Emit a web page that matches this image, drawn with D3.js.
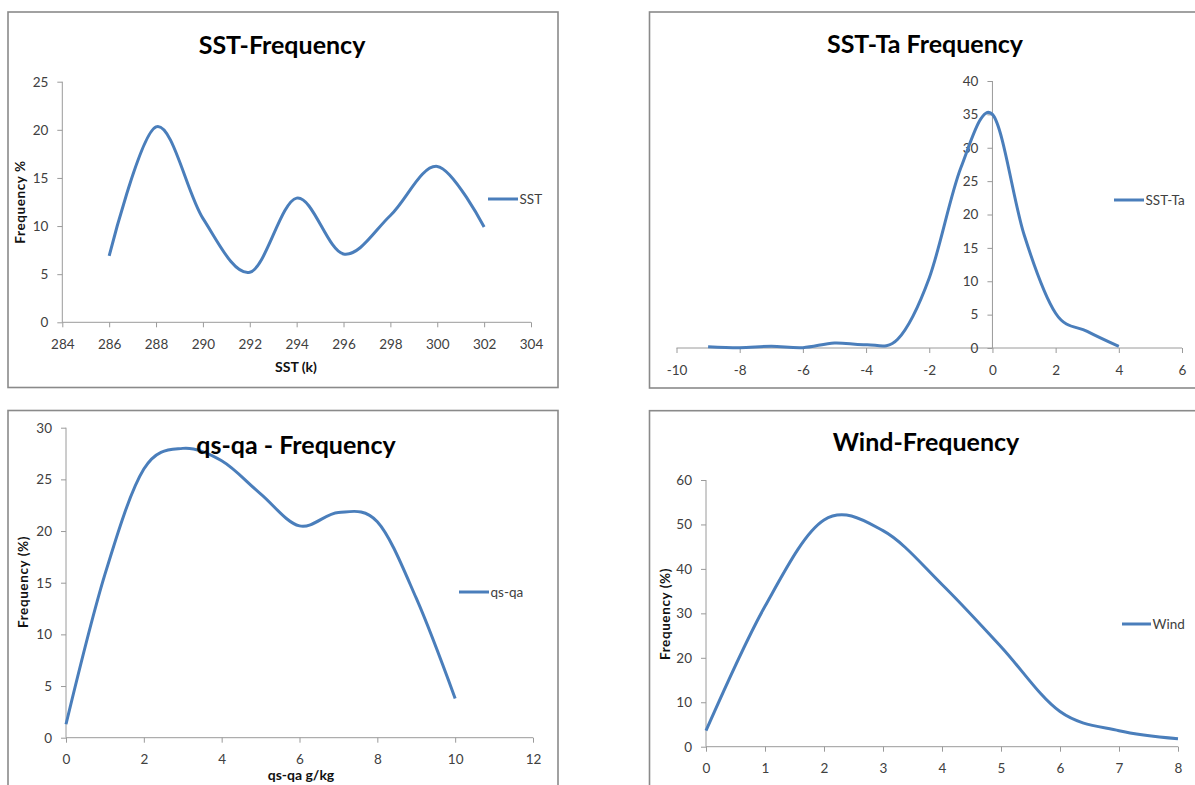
<!DOCTYPE html>
<html>
<head>
<meta charset="utf-8">
<script src="https://cdn.jsdelivr.net/npm/d3@7/dist/d3.min.js"></script>
<style>
  html, body { margin: 0; padding: 0; background: #fff; }
  svg { display: block; }
  .tick text { font-family: Lato, "Liberation Sans", Arial, sans-serif; font-size: 13.5px; fill: #404040; }
  .tick line, .domain { stroke: #9a9a9a; stroke-width: 1; }
</style>
</head>
<body>
<svg id="chart" width="1195" height="785"></svg>
<script>
// ---- data ----
const sstX = [286, 288, 290, 292, 294, 296, 298, 300, 302];
const sstFreq = [6.9, 20.3, 10.8, 5.2, 12.9, 7.1, 11.1, 16.2, 9.9];

const sstTaX = [-9, -8, -7, -6, -5, -4, -3, -2, -1, 0, 1, 2, 3, 4];
const sstTaFreq = [0.2, 0.05, 0.25, 0.05, 0.75, 0.5, 1.3, 10.5, 27, 35, 17, 5.2, 2.5, 0.25];

const qsqaX = [0, 1, 2, 3, 4, 5, 6, 7, 8, 9, 10];
const qsqaFreq = [1.3, 15.8, 26, 28, 26.8, 23.6, 20.5, 21.8, 20.9, 13.5, 3.8];

const windX = [0, 1, 2, 3, 4, 5, 6, 7, 8];
const windFreq = [3.6, 31.6, 51, 48.6, 36.5, 22.5, 7.9, 3.6, 1.8];

// ---- axis ticks ----
const sstTicksX = [284, 286, 288, 290, 292, 294, 296, 298, 300, 302, 304];
const sstTicksY = [0, 5, 10, 15, 20, 25];
const sstTaTicksX = [-10, -8, -6, -4, -2, 0, 2, 4, 6];
const sstTaTicksY = [0, 5, 10, 15, 20, 25, 30, 35, 40];
const qsqaTicksX = [0, 2, 4, 6, 8, 10, 12];
const qsqaTicksY = [0, 5, 10, 15, 20, 25, 30];
const windTicksX = [0, 1, 2, 3, 4, 5, 6, 7, 8];
const windTicksY = [0, 10, 20, 30, 40, 50, 60];

const titles = ["SST-Frequency", "SST-Ta Frequency", "qs-qa - Frequency", "Wind-Frequency"];
const seriesNames = ["SST", "SST-Ta", "qs-qa", "Wind"];

// ---- panel layout ----
const panels = [
  {
    xs: sstX, ys: sstFreq, ticksX: sstTicksX, ticksY: sstTicksY,
    title: titles[0], name: seriesNames[0],
    frame: [8, 12, 550, 375.5],
    xRange: [62.3, 531], yRange: [322.3, 81.7],
    yAxisAt: "min", xAxisAt: 0,
    titlePos: [282, 54], legend: [488, 518, 199],
    xLabel: "SST (k)", xLabelPos: [296, 372],
    yLabel: "Frequency %", yLabelPos: [20, 202]
  },
  {
    xs: sstTaX, ys: sstTaFreq, ticksX: sstTaTicksX, ticksY: sstTaTicksY,
    title: titles[1], name: seriesNames[1],
    frame: [649.5, 12, 560, 376],
    xRange: [676.5, 1182], yRange: [348, 81],
    yAxisAt: 0, xAxisAt: 0,
    titlePos: [925, 53], legend: [1114, 1144, 200]
  },
  {
    xs: qsqaX, ys: qsqaFreq, ticksX: qsqaTicksX, ticksY: qsqaTicksY,
    title: titles[2], name: seriesNames[2],
    frame: [8, 410.5, 550, 400],
    xRange: [66, 533], yRange: [737.7, 427.7],
    yAxisAt: "min", xAxisAt: 0,
    titlePos: [296, 454], legend: [459, 489, 592],
    xLabel: "qs-qa g/kg", xLabelPos: [301, 780],
    yLabel: "Frequency (%)", yLabelPos: [23, 582]
  },
  {
    xs: windX, ys: windFreq, ticksX: windTicksX, ticksY: windTicksY,
    title: titles[3], name: seriesNames[3],
    frame: [649.5, 410.7, 560, 400],
    xRange: [706, 1178], yRange: [746.7, 480],
    yAxisAt: "min", xAxisAt: 0,
    titlePos: [926, 451], legend: [1122, 1151, 624],
    yLabel: "Frequency (%)", yLabelPos: [665, 614]
  }
];

const FONT = 'Lato, "Liberation Sans", Arial, sans-serif';
const LINE_COLOR = "#4a7ebb";
const svg = d3.select("#chart");

panels.forEach(p => {
  const g = svg.append("g");

  // chart frame
  g.append("rect")
    .attr("x", p.frame[0]).attr("y", p.frame[1])
    .attr("width", p.frame[2]).attr("height", p.frame[3])
    .attr("fill", "#fff").attr("stroke", "#8a8a8a").attr("stroke-width", 1.6);

  const xDom = d3.extent(p.ticksX);
  const yDom = d3.extent(p.ticksY);
  const x = d3.scaleLinear().domain(xDom).range(p.xRange);
  const y = d3.scaleLinear().domain(yDom).range(p.yRange);

  const yAxisX = p.yAxisAt === "min" ? x(xDom[0]) : x(p.yAxisAt);
  const xAxisY = y(p.xAxisAt);

  // axes
  const gx = g.append("g").attr("transform", `translate(0,${xAxisY})`)
    .call(d3.axisBottom(x).tickValues(p.ticksX).tickSize(5).tickPadding(12).tickSizeOuter(0)
      .tickFormat(d3.format("d")));
  const gy = g.append("g").attr("transform", `translate(${yAxisX},0)`)
    .call(d3.axisLeft(y).tickValues(p.ticksY).tickSize(5).tickPadding(9).tickSizeOuter(0)
      .tickFormat(d3.format("d")));
  gx.select(".domain").attr("d", `M${p.xRange[0]},0H${p.xRange[1]}`);
  gy.select(".domain").attr("d", `M0,${p.yRange[0]}V${p.yRange[1]}`);
  gx.selectAll(".tick text").text(d => d < 0 ? "-" + Math.abs(d) : d);

  // series line
  const line = d3.line()
    .x((d, i) => x(p.xs[i]))
    .y(d => y(d))
    .curve(d3.curveCatmullRom.alpha(0));
  g.append("path")
    .datum(p.ys)
    .attr("d", line)
    .attr("fill", "none")
    .attr("stroke", LINE_COLOR)
    .attr("stroke-width", 3)
    .attr("stroke-linejoin", "round");

  // title
  g.append("text")
    .attr("x", p.titlePos[0]).attr("y", p.titlePos[1])
    .attr("text-anchor", "middle")
    .style("font-family", FONT).style("font-weight", "bold").style("font-size", "25px")
    .attr("fill", "#000")
    .text(p.title);

  // legend
  g.append("line")
    .attr("x1", p.legend[0]).attr("x2", p.legend[1])
    .attr("y1", p.legend[2]).attr("y2", p.legend[2])
    .attr("stroke", LINE_COLOR).attr("stroke-width", 3);
  g.append("text")
    .attr("x", p.legend[1] + 1.5).attr("y", p.legend[2])
    .attr("dy", "0.36em")
    .style("font-family", FONT).style("font-size", "13.5px")
    .attr("fill", "#404040")
    .text(p.name);

  // axis titles
  if (p.xLabel) {
    g.append("text")
      .attr("x", p.xLabelPos[0]).attr("y", p.xLabelPos[1])
      .attr("text-anchor", "middle")
      .style("font-family", FONT).style("font-weight", "bold").style("font-size", "14px")
      .attr("fill", "#111")
      .text(p.xLabel);
  }
  if (p.yLabel) {
    g.append("text")
      .attr("transform", `translate(${p.yLabelPos[0]},${p.yLabelPos[1]}) rotate(-90)`)
      .attr("text-anchor", "middle")
      .attr("dy", "0.36em")
      .style("font-family", FONT).style("font-weight", "bold").style("font-size", "13.5px")
      .style("letter-spacing", "0.6px")
      .attr("fill", "#111")
      .text(p.yLabel);
  }
});
</script>
</body>
</html>
